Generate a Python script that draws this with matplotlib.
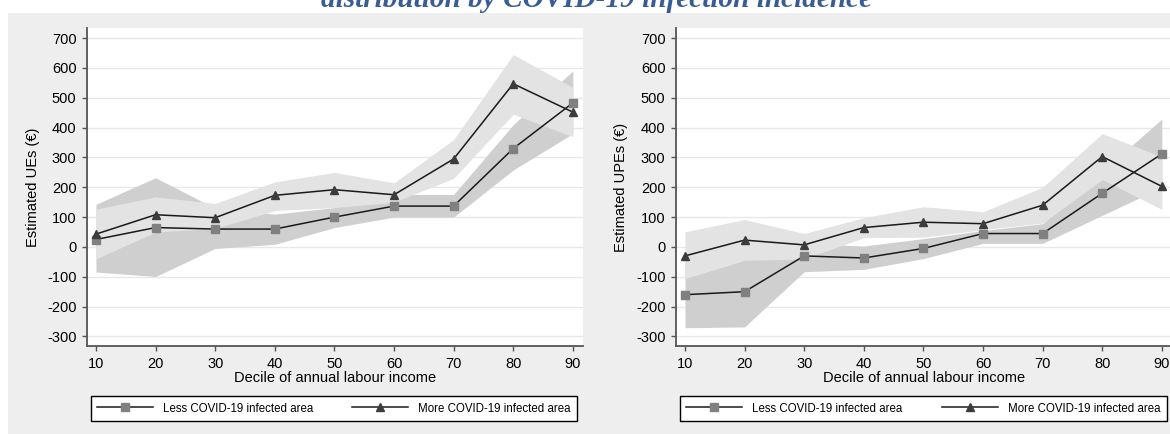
import matplotlib
matplotlib.use('Agg')
import matplotlib.pyplot as plt
from matplotlib.lines import Line2D
from matplotlib.patches import Rectangle

# ---------------- data ----------------
deciles = [10, 20, 30, 40, 50, 60, 70, 80, 90]

# Left panel: Estimated UEs
ue_less = [25, 65, 60, 60, 100, 137, 137, 330, 483]
ue_more = [43, 108, 98, 173, 192, 175, 295, 547, 452]
ue_less_lo = [-84, -99, -5, 9, 65, 100, 100, 258, 380]
ue_less_hi = [143, 232, 130, 110, 132, 176, 176, 410, 590]
ue_more_lo = [-40, 50, 62, 122, 132, 150, 230, 445, 370]
ue_more_hi = [127, 168, 146, 218, 250, 215, 360, 645, 535]

# Right panel: Estimated UPEs
upe_less = [-160, -150, -30, -37, -5, 45, 45, 180, 312]
upe_more = [-30, 23, 7, 65, 83, 78, 140, 303, 203]
upe_less_lo = [-271, -268, -83, -75, -39, 12, 12, 106, 200]
upe_less_hi = [-50, -30, 12, 3, 28, 55, 78, 253, 429]
upe_more_lo = [-106, -45, -40, 31, 33, 58, 80, 226, 126]
upe_more_hi = [51, 92, 45, 98, 135, 118, 200, 380, 302]

yticks = [-300, -200, -100, 0, 100, 200, 300, 400, 500, 600, 700]
labels = ["Less COVID-19 infected area", "More COVID-19 infected area"]
title = "distribution by COVID-19 infection incidence"
xlabel = "Decile of annual labour income"
ylabels = ["Estimated UEs (\u20ac)", "Estimated UPEs (\u20ac)"]

# ---------------- style ----------------
plt.rcParams['font.family'] = ['Liberation Sans', 'DejaVu Sans']
plt.rcParams['axes.unicode_minus'] = False
W, H = 1170, 434
fig = plt.figure(figsize=(W / 100, H / 100), dpi=100, facecolor='white')

# grey graph region
fig.add_artist(Rectangle((8 / W, 0), 1 - 8 / W, (H - 12.7) / H,
                         transform=fig.transFigure, facecolor='#eeeeee',
                         edgecolor='none', zorder=-10))

DARK = '#cfcfcf'
LIGHT = '#e3e3e3'
SQ = '#808080'
TRI = '#3c3c3c'
LINE = '#1a1a1a'
SPINE = '#555555'
FS = 10.5

ax_w = 496 / W
ax_b = 1 - 345.7 / H
ax_h = 317.4 / H
lefts = [87 / W, 676 / W]

panels = [
    (ue_less, ue_more, ue_less_lo, ue_less_hi, ue_more_lo, ue_more_hi),
    (upe_less, upe_more, upe_less_lo, upe_less_hi, upe_more_lo, upe_more_hi),
]

for i, (less, more, llo, lhi, mlo, mhi) in enumerate(panels):
    ax = fig.add_axes([lefts[i], ax_b, ax_w, ax_h])
    ax.set_facecolor('white')
    ax.fill_between(deciles, llo, lhi, color=DARK, lw=0, zorder=2)
    ax.fill_between(deciles, mlo, mhi, color=LIGHT, lw=0, zorder=3)
    ax.plot(deciles, less, color=LINE, lw=1.1, marker='s', ms=6.2,
            mfc=SQ, mec=SQ, zorder=5)
    ax.plot(deciles, more, color=LINE, lw=1.1, marker='^', ms=6.3,
            mfc=TRI, mec=TRI, zorder=6)
    ax.set_xlim(8.5, 91.7)
    ax.set_ylim(-331, 733)
    ax.set_xticks(deciles)
    ax.set_yticks(yticks)
    ax.yaxis.grid(True, color='#e8e8e8', lw=1.0, zorder=0)
    ax.set_axisbelow(True)
    for s in ['top', 'right']:
        ax.spines[s].set_visible(False)
    for s in ['left', 'bottom']:
        ax.spines[s].set_color(SPINE)
        ax.spines[s].set_linewidth(1.3)
    ax.tick_params(axis='both', direction='out', length=3.8, width=1.0,
                   color=SPINE, labelsize=FS, labelcolor='black')
    ax.tick_params(axis='y', pad=3.8)
    ax.tick_params(axis='x', pad=4.0)
    ax.set_xlabel(xlabel, fontsize=FS, va='center')
    ax.xaxis.set_label_coords(0.5, (345.7 - 378.5) / 317.4)
    ax.set_ylabel(ylabels[i], fontsize=FS, va='center')
    ax.yaxis.set_label_coords((32.5 - 87) / 496, 0.5)

    handles = [
        Line2D([], [], color=LINE, lw=1.1, marker='s', ms=6.0, mfc=SQ, mec=SQ),
        Line2D([], [], color=LINE, lw=1.1, marker='^', ms=6.0, mfc=TRI, mec=TRI),
    ]
    lx0 = [91 / W, 680 / W][i]
    lw_ = [486 / W, 487 / W][i]
    leg = fig.legend(handles, labels, loc='center',
                     bbox_to_anchor=(lx0, 1 - 422 / H, lw_, 27 / H),
                     bbox_transform=fig.transFigure, mode='expand', ncol=2,
                     fontsize=8.3, frameon=True, fancybox=False,
                     edgecolor='black', facecolor='white', framealpha=1,
                     borderaxespad=0, handlelength=4.8, handletextpad=0.9,
                     borderpad=0.55, numpoints=1)
    leg.get_frame().set_linewidth(1.0)

# title (partly cut off at the top, as in the reference)
t = fig.text(320.7 / W, 1 - 7.3 / H, title, ha='left', va='baseline',
             fontsize=19, fontweight='bold', fontstyle='italic',
             family=['Liberation Serif', 'DejaVu Serif'], color='#385d94')
fig.canvas.draw()
bb = t.get_window_extent()
t.set_fontsize(19 * 551 / bb.width)

fig.savefig('out.png', dpi=100, facecolor='white')
